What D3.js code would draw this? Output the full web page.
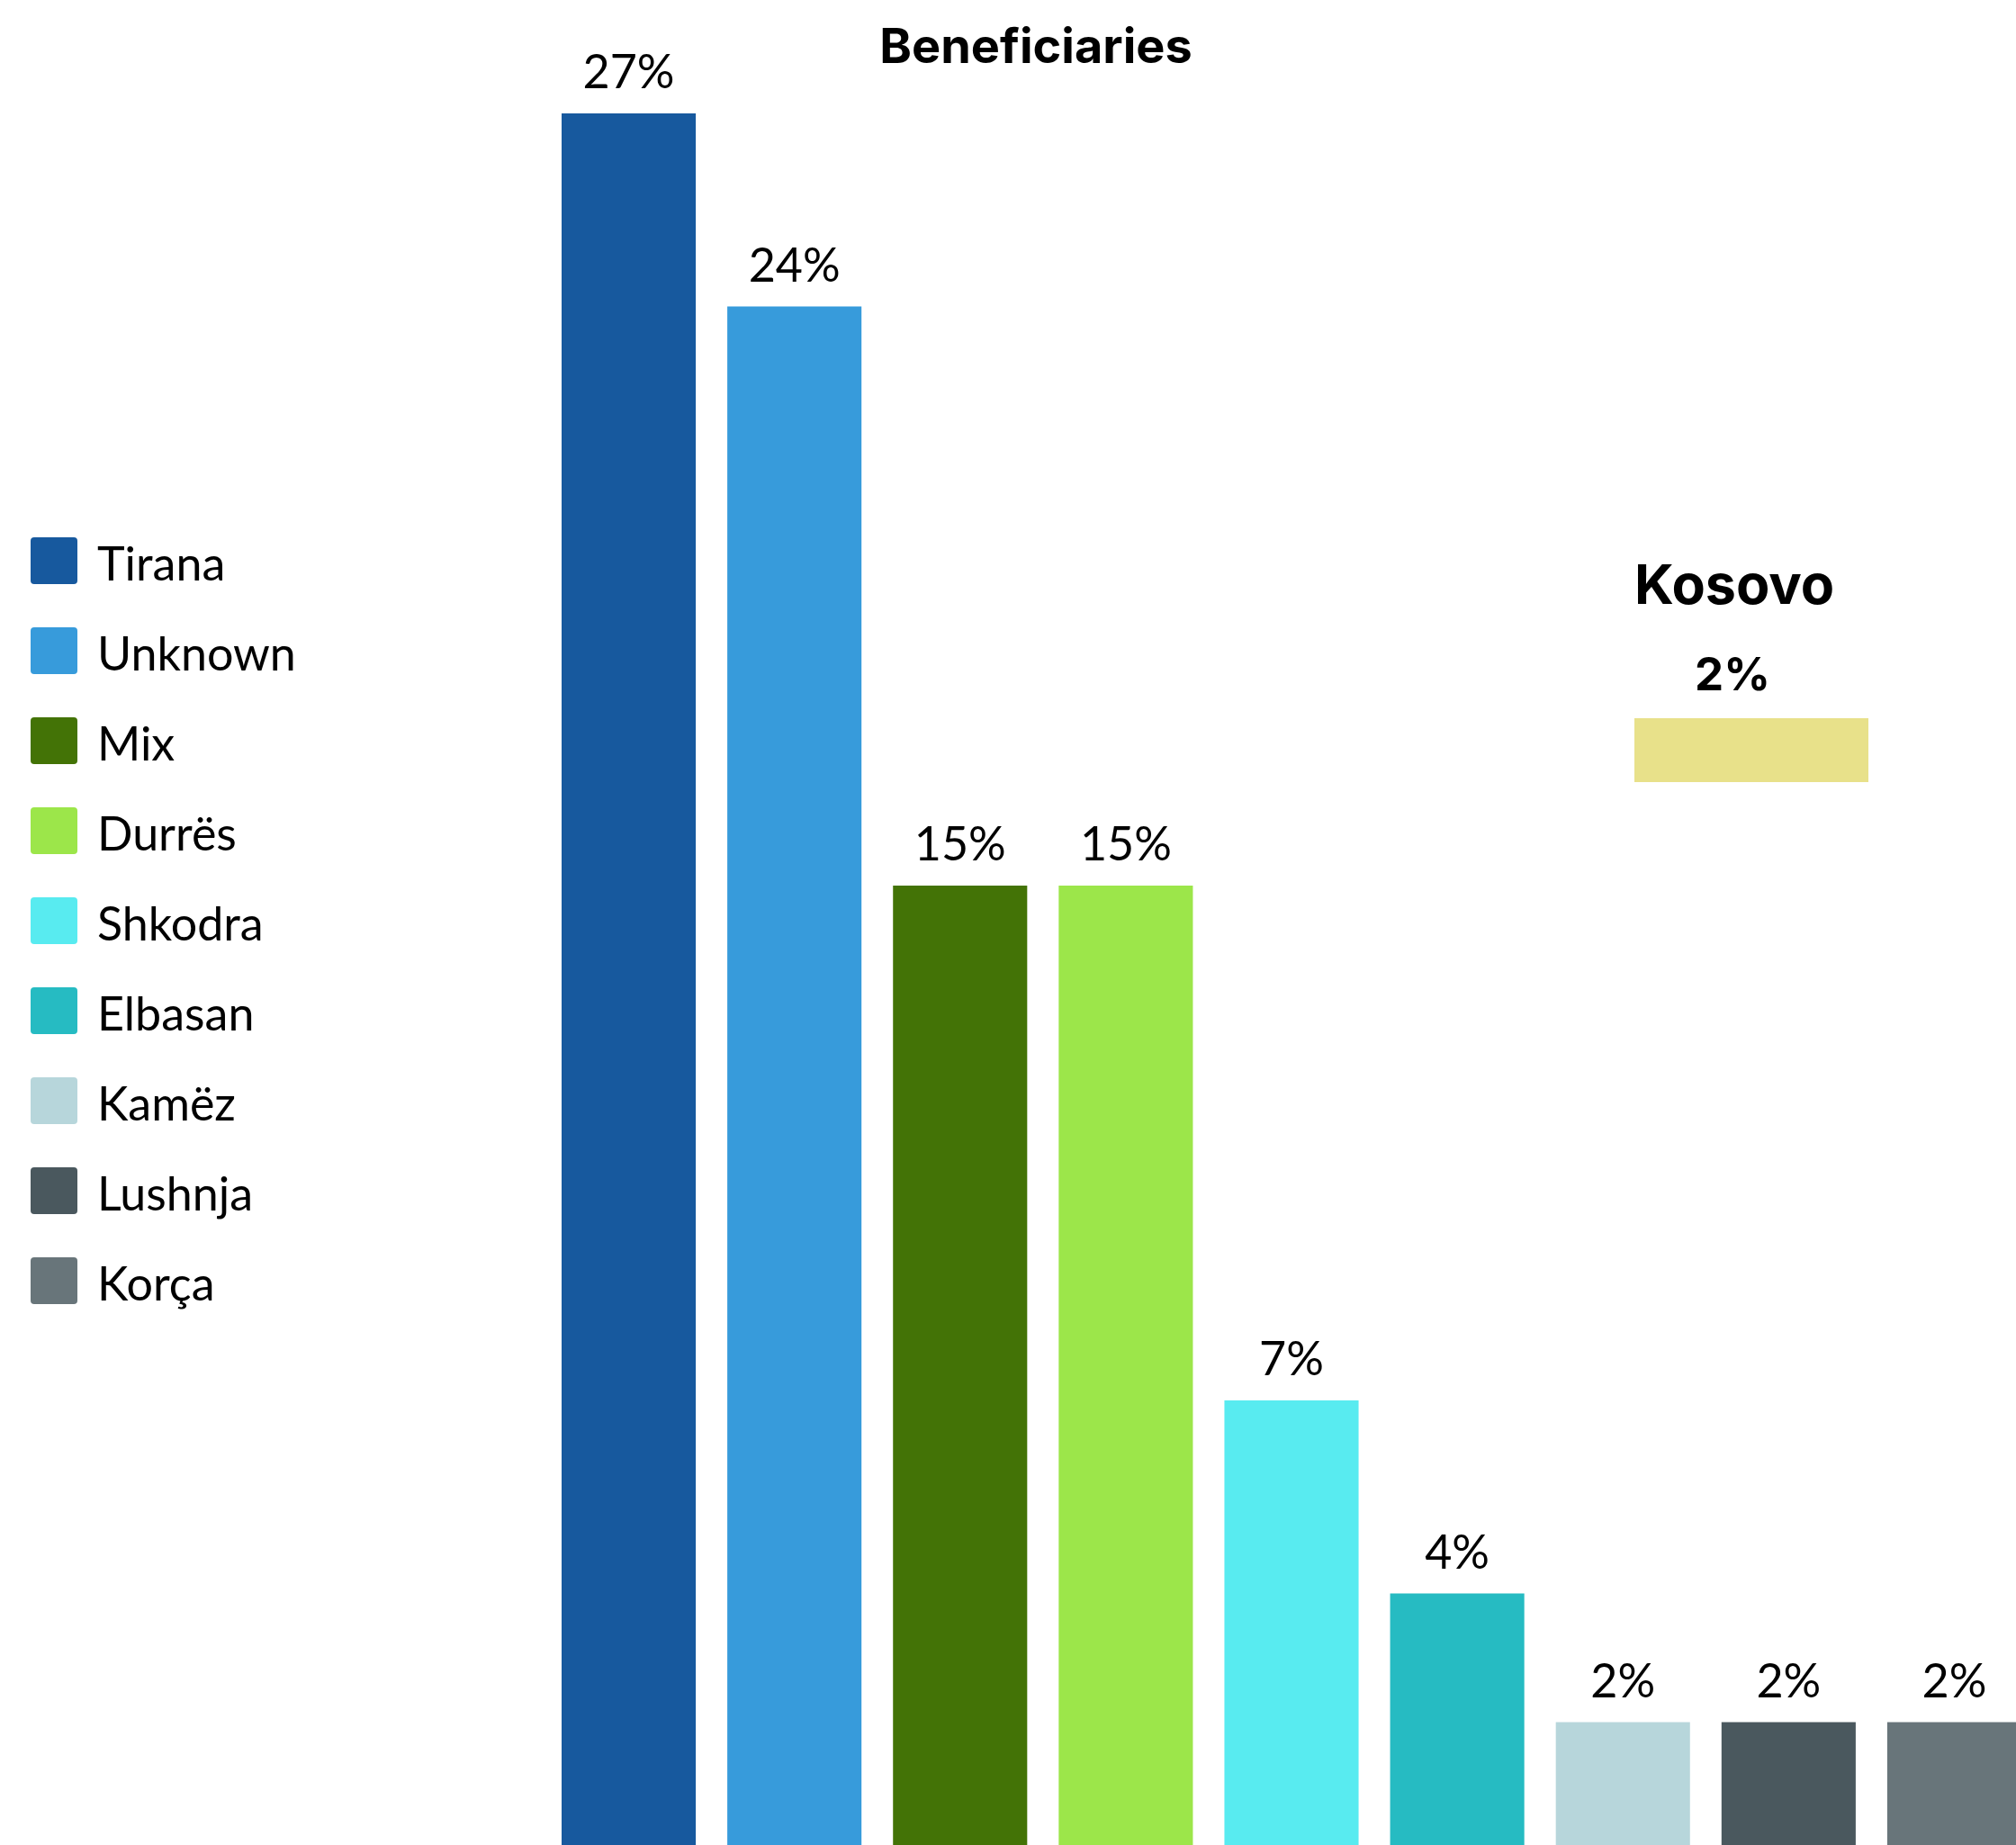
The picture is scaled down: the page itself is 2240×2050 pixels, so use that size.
<!DOCTYPE html>
<html>
<head>
<meta charset="utf-8">
<script src="https://cdn.jsdelivr.net/npm/d3@7"></script>
<style>
  html, body { margin: 0; padding: 0; background: #fff; }
  svg { display: block; }
</style>
</head>
<body>
<svg id="chart" width="2240" height="2050"></svg>
<script>
// Beneficiaries by location (share, %)
const categories = ["Tirana", "Unknown", "Mix", "Durrës", "Shkodra", "Elbasan", "Kamëz", "Lushnja", "Korça"];
const shares = [27, 24, 15, 15, 7, 4, 2, 2, 2];
const colors = ["#17599e", "#379bdb", "#437306", "#9ce64a", "#58ebf0", "#26bbc2", "#b7d6db", "#4a585e", "#68757a"];

// Kosovo shown separately
const kosovoLabel = "Kosovo";
const kosovoShare = 2;
const kosovoColor = "#e8e18a";

const title = "Beneficiaries";

const svg = d3.select("#chart");

const labelFont = "Lato, 'Noto Sans', sans-serif";
const headFont = "Inter, 'Open Sans', sans-serif";

// scales
const x = d3.scaleBand()
  .domain(categories)
  .range([624, 2246])
  .paddingInner(35 / 184)
  .paddingOuter(0);

const y = d3.scaleLinear()
  .domain([0, d3.max(shares)])
  .range([2056.5, 126]);

const data = categories.map((c, i) => ({ cat: c, v: shares[i], col: colors[i] }));

// bars
svg.append("g").selectAll("rect")
  .data(data)
  .join("rect")
  .attr("x", d => x(d.cat))
  .attr("y", d => y(d.v))
  .attr("width", x.bandwidth())
  .attr("height", d => y(0) - y(d.v))
  .attr("fill", d => d.col);

// value labels
svg.append("g").selectAll("text")
  .data(data)
  .join("text")
  .attr("x", d => x(d.cat) + x.bandwidth() / 2)
  .attr("y", d => y(d.v) - 28)
  .attr("text-anchor", "middle")
  .attr("font-family", labelFont)
  .attr("font-size", 52)
  .attr("fill", "#000")
  .text(d => d3.format(".0f")(d.v) + "%");

// title
svg.append("text")
  .attr("x", 1151)
  .attr("y", 70)
  .attr("text-anchor", "middle")
  .attr("font-family", headFont)
  .attr("font-weight", 700)
  .attr("font-size", 54)
  .attr("fill", "#000")
  .text(title);

// legend
const legend = svg.append("g");
const leg = legend.selectAll("g")
  .data(data)
  .join("g")
  .attr("transform", (d, i) => `translate(34, ${597 + i * 100})`);
leg.append("rect")
  .attr("width", 52)
  .attr("height", 52)
  .attr("rx", 4)
  .attr("fill", d => d.col);
leg.append("text")
  .attr("x", 74)
  .attr("y", 48)
  .attr("font-family", labelFont)
  .attr("font-size", 52)
  .attr("fill", "#000")
  .text(d => d.cat);

// Kosovo inset
const kx = d3.scaleLinear().domain([0, kosovoShare]).range([0, 260]);
const kosovo = svg.append("g").attr("transform", "translate(1816, 0)");
kosovo.append("text")
  .attr("x", 0)
  .attr("y", 671)
  .attr("font-family", headFont)
  .attr("font-weight", 700)
  .attr("font-size", 61)
  .attr("fill", "#000")
  .text(kosovoLabel);
kosovo.append("text")
  .attr("x", 109)
  .attr("y", 767)
  .attr("text-anchor", "middle")
  .attr("font-family", headFont)
  .attr("font-weight", 700)
  .attr("font-size", 51)
  .attr("fill", "#000")
  .text(d3.format(".0f")(kosovoShare) + "%");
kosovo.append("rect")
  .attr("x", 0)
  .attr("y", 798)
  .attr("width", kx(kosovoShare))
  .attr("height", 71)
  .attr("fill", kosovoColor);
</script>
</body>
</html>
